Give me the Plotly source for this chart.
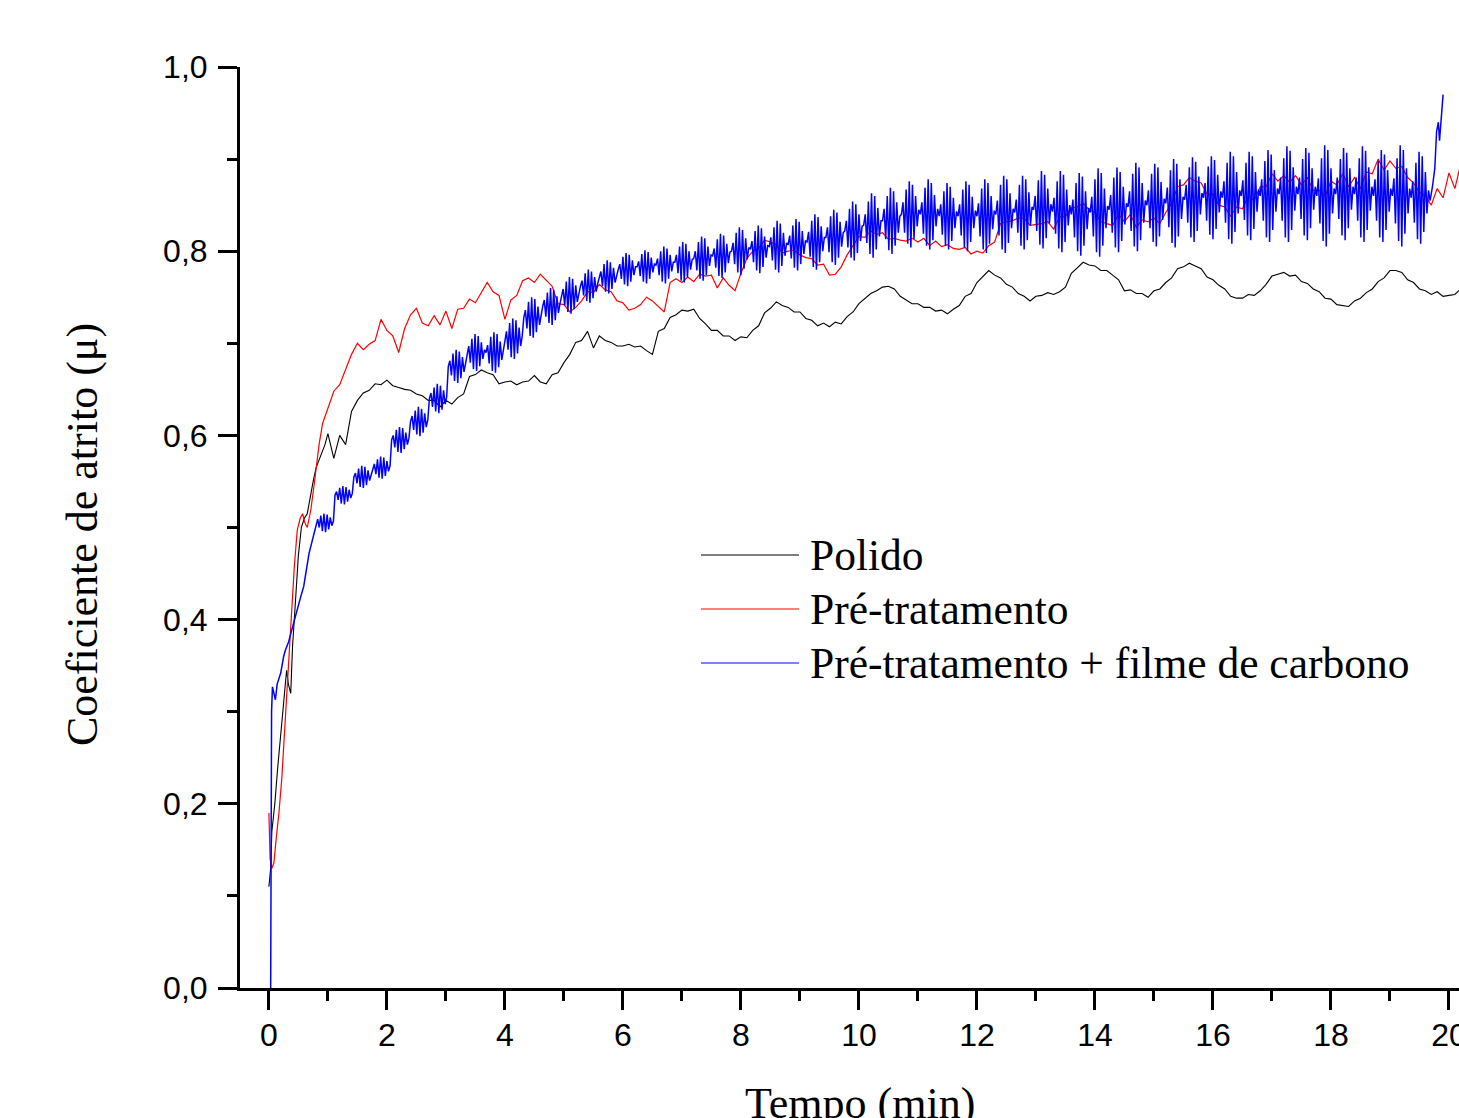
import plotly.graph_objects as go

# ---------------- data ----------------
series_names = ["Polido", "Pré-tratamento", "Pré-tratamento + filme de carbono"]
series_colors = ["#000000", "#ff0000", "#0000ff"]

x_ticks = [0, 2, 4, 6, 8, 10, 12, 14, 16, 18, 20]
y_ticks = [0.0, 0.2, 0.4, 0.6, 0.8, 1.0]

# Polido (black)
black_t_start = [0.0, 0.03, 0.05, 0.1, 0.15, 0.2, 0.25, 0.3, 0.33, 0.37, 0.4, 0.45,
                 0.5, 0.55, 0.6, 0.65, 0.7, 0.75, 0.8, 0.85, 0.9, 0.95]
black_v_start = [0.11, 0.13, 0.17, 0.20, 0.24, 0.28, 0.31, 0.345, 0.33, 0.32, 0.37, 0.42,
                 0.47, 0.50, 0.51, 0.515, 0.535, 0.55, 0.565, 0.573, 0.58, 0.59]
black_step = 0.1
black_v = [
    .602, .575, .600, .590, .626, .638, .646, .649, .656, .655,
    .660, .654, .652, .650, .649, .645, .643, .638, .638, .631,
    .638, .634, .641, .645, .664, .666, .671, .668, .666, .656,
    .658, .659, .655, .658, .659, .665, .658, .656, .666, .668,
    .679, .688, .701, .703, .713, .695, .708, .703, .701, .697,
    .697, .699, .696, .697, .692, .688, .713, .716, .728, .731,
    .736, .735, .737, .727, .721, .714, .714, .708, .708, .703,
    .707, .706, .714, .719, .733, .738, .745, .741, .739, .734,
    .734, .727, .725, .719, .722, .718, .723, .721, .729, .734,
    .743, .749, .754, .757, .761, .762, .759, .751, .747, .743,
    .743, .739, .739, .735, .736, .732, .737, .741, .751, .754,
    .766, .773, .779, .774, .771, .764, .761, .754, .751, .746,
    .751, .752, .755, .753, .756, .761, .776, .782, .788, .785,
    .784, .779, .779, .774, .769, .757, .758, .754, .754, .750,
    .757, .759, .766, .771, .781, .783, .787, .784, .781, .772,
    .769, .763, .759, .751, .749, .749, .753, .752, .757, .764,
    .773, .775, .777, .773, .774, .767, .765, .759, .756, .749,
    .748, .742, .741, .740, .746, .749, .755, .759, .767, .771,
    .779, .779, .777, .769, .766, .759, .757, .753, .756, .751,
    .752, .753, .759,
]

# Pré-tratamento (red)
red_t_start = [0.0, 0.02, 0.05, 0.085, 0.12, 0.17, 0.22, 0.28, 0.33, 0.37, 0.43, 0.48,
               0.53, 0.57, 0.61, 0.65, 0.71, 0.77, 0.85, 0.91, 0.95]
red_v_start = [0.19, 0.14, 0.13, 0.136, 0.16, 0.19, 0.229, 0.295, 0.34, 0.385, 0.457, 0.497,
               0.51, 0.515, 0.505, 0.50, 0.519, 0.548, 0.59, 0.613, 0.62]
red_step = 0.1
red_v = [
    .631, .648, .655, .672, .688, .700, .693, .699, .703, .726,
    .714, .708, .690, .716, .731, .738, .722, .719, .730, .720,
    .735, .716, .737, .738, .748, .744, .755, .766, .756, .752,
    .726, .747, .752, .768, .771, .766, .775, .769, .762, .743,
    .742, .734, .739, .746, .756, .755, .764, .758, .756, .746,
    .744, .736, .738, .742, .750, .746, .740, .734, .766, .770,
    .766, .772, .767, .775, .773, .774, .760, .771, .763, .757,
    .776, .792, .800, .803, .812, .810, .807, .798, .800, .801,
    .796, .793, .792, .785, .786, .774, .775, .783, .796, .806,
    .816, .815, .822, .818, .820, .813, .814, .812, .811, .814,
    .810, .814, .806, .811, .805, .807, .803, .802, .804, .797,
    .800, .798, .806, .810, .830, .832, .833, .836, .836, .828,
    .829, .830, .832, .824, .837, .838, .847, .848, .852, .845,
    .842, .832, .830, .828, .840, .832, .840, .826, .834, .832,
    .836, .830, .842, .852, .870, .872, .880, .876, .874, .862,
    .862, .850, .848, .838, .848, .846, .860, .855, .870, .870,
    .884, .876, .882, .875, .882, .872, .880, .866, .866, .860,
    .876, .872, .884, .870, .880, .868, .886, .884, .900, .888,
    .898, .890, .892, .880, .874, .864, .860, .850, .868, .858,
    .885, .868, .895,
]

# Pré-tratamento + filme de carbono (blue)
blue_t_start = [0.03, 0.035, 0.045, 0.06, 0.08, 0.11, 0.14, 0.2, 0.25, 0.28, 0.33, 0.37,
                0.43, 0.48, 0.54, 0.59, 0.64, 0.68, 0.72, 0.76]
blue_v_start = [0.0, 0.12, 0.30, 0.327, 0.32, 0.313, 0.33, 0.342, 0.36, 0.367, 0.375, 0.385,
                0.40, 0.41, 0.425, 0.436, 0.455, 0.472, 0.482, 0.492]
blue_step = 0.32 / 12
blue_v = [
    .505, .509, .500, .513, .496, .515, .495, .514, .498, .511, .502, .507,
    .535, .539, .530, .543, .526, .545, .525, .544, .528, .541, .532, .537,
    .555, .559, .548, .564, .544, .567, .543, .566, .546, .562, .551, .557,
    .565, .569, .558, .574, .554, .577, .553, .576, .556, .572, .561, .567,
    .595, .600, .587, .606, .582, .609, .581, .608, .585, .603, .590, .597,
    .615, .621, .606, .627, .601, .631, .599, .629, .603, .624, .609, .617,
    .640, .646, .631, .652, .626, .656, .624, .654, .628, .649, .634, .642,
    .675, .681, .665, .689, .659, .693, .657, .691, .662, .685, .669, .678,
    .690, .697, .679, .705, .672, .710, .670, .708, .675, .701, .683, .693,
    .690, .698, .678, .707, .670, .712, .668, .710, .674, .702, .682, .693,
    .705, .713, .693, .722, .685, .727, .683, .725, .689, .717, .697, .708,
    .728, .736, .716, .745, .708, .750, .706, .748, .712, .740, .720, .731,
    .740, .747, .729, .755, .722, .760, .720, .758, .725, .751, .733, .743,
    .752, .759, .741, .767, .734, .772, .732, .770, .737, .763, .745, .755,
    .762, .768, .752, .776, .746, .780, .744, .778, .749, .772, .756, .765,
    .772, .778, .762, .786, .756, .790, .754, .788, .759, .782, .766, .775,
    .780, .786, .770, .794, .764, .798, .762, .796, .767, .790, .774, .783,
    .783, .789, .773, .797, .767, .801, .765, .799, .770, .793, .777, .786,
    .785, .792, .774, .800, .767, .805, .765, .803, .770, .796, .778, .788,
    .788, .796, .776, .805, .768, .810, .766, .808, .772, .800, .780, .791,
    .792, .800, .779, .810, .770, .816, .768, .814, .774, .805, .784, .796,
    .795, .803, .782, .813, .773, .819, .771, .817, .777, .808, .787, .799,
    .800, .809, .786, .820, .777, .826, .774, .823, .781, .814, .791, .804,
    .802, .811, .788, .822, .779, .828, .776, .825, .783, .816, .793, .806,
    .805, .815, .790, .826, .780, .833, .777, .830, .784, .820, .795, .809,
    .807, .817, .792, .828, .782, .835, .779, .832, .786, .822, .797, .811,
    .810, .821, .794, .833, .783, .840, .780, .837, .788, .827, .800, .815,
    .815, .826, .799, .838, .788, .845, .785, .842, .793, .832, .805, .820,
    .822, .833, .804, .846, .793, .854, .790, .851, .798, .840, .811, .827,
    .828, .840, .809, .854, .797, .863, .793, .860, .802, .847, .816, .833,
    .833, .846, .813, .860, .801, .869, .797, .865, .806, .853, .820, .838,
    .840, .853, .820, .867, .808, .876, .804, .872, .813, .860, .827, .845,
    .840, .853, .819, .869, .806, .878, .802, .874, .812, .861, .827, .846,
    .838, .851, .818, .865, .806, .874, .802, .870, .811, .858, .825, .843,
    .838, .851, .817, .867, .804, .876, .800, .872, .810, .859, .825, .844,
    .838, .852, .816, .868, .802, .878, .798, .874, .808, .860, .824, .844,
    .840, .855, .817, .872, .802, .882, .798, .878, .809, .863, .825, .846,
    .842, .856, .820, .872, .806, .882, .802, .878, .812, .864, .828, .848,
    .845, .860, .822, .877, .807, .887, .803, .883, .814, .868, .830, .851,
    .843, .858, .819, .876, .803, .887, .799, .883, .810, .867, .828, .850,
    .840, .856, .815, .874, .800, .885, .795, .881, .806, .865, .824, .847,
    .842, .859, .816, .878, .799, .890, .794, .885, .806, .868, .825, .849,
    .845, .861, .820, .880, .804, .891, .799, .886, .811, .870, .829, .852,
    .848, .865, .822, .884, .805, .896, .800, .891, .812, .874, .831, .855,
    .850, .866, .825, .884, .810, .895, .805, .891, .816, .875, .834, .857,
    .852, .869, .826, .888, .809, .900, .804, .895, .816, .878, .835, .859,
    .856, .872, .831, .891, .815, .902, .810, .897, .822, .881, .840, .863,
    .858, .874, .833, .892, .818, .903, .813, .899, .824, .883, .842, .865,
    .858, .876, .831, .896, .813, .908, .808, .903, .821, .886, .841, .866,
    .860, .877, .834, .896, .817, .908, .812, .903, .824, .886, .843, .867,
    .860, .878, .833, .898, .815, .910, .810, .905, .823, .888, .843, .868,
    .862, .880, .833, .901, .815, .914, .810, .909, .823, .891, .844, .870,
    .862, .880, .835, .900, .817, .912, .812, .907, .825, .890, .845, .870,
    .860, .879, .830, .901, .811, .915, .805, .910, .819, .890, .841, .868,
    .862, .880, .835, .900, .817, .912, .812, .907, .825, .890, .845, .870,
    .862, .880, .833, .901, .815, .914, .810, .909, .823, .891, .844, .870,
    .860, .878, .833, .898, .815, .910, .810, .905, .823, .888, .843, .868,
    .860, .879, .830, .901, .811, .915, .805, .910, .819, .890, .841, .868,
    .858, .876, .831, .896, .813, .908, .808, .903, .821, .886, .841, .866,
]
blue_t_end = [19.68, 19.72, 19.76, 19.79, 19.82, 19.84, 19.87, 19.9]
blue_v_end = [0.855, 0.87, 0.89, 0.93, 0.94, 0.92, 0.95, 0.97]


def uniform_times(start, step, n):
    return [round(start + step * i, 4) for i in range(n)]


black_t = black_t_start + uniform_times(1.0, black_step, len(black_v))
black_y = black_v_start + black_v
red_t = red_t_start + uniform_times(1.0, red_step, len(red_v))
red_y = red_v_start + red_v
blue_t = blue_t_start + uniform_times(0.8, blue_step, len(blue_v)) + blue_t_end
blue_y = blue_v_start + blue_v + blue_v_end

all_t = [black_t, red_t, blue_t]
all_y = [black_y, red_y, blue_y]
line_widths = [1.1, 1.2, 1.5]

# ---------------- figure ----------------
W, H = 1459, 1118
L, R, T, B = 240, 0, 67, 130
PW, PH = W - L - R, H - T - B

fig = go.Figure()
for name, color, lw, tt, yy in zip(series_names, series_colors, line_widths, all_t, all_y):
    fig.add_trace(go.Scatter(x=tt, y=yy, mode="lines", name=name,
                             line=dict(color=color, width=lw),
                             showlegend=False, hoverinfo="skip"))

tick_font = dict(family="Liberation Sans, Arial, sans-serif", size=32, color="#000")
serif = "Liberation Serif, Times New Roman, serif"

fig.update_layout(
    width=W, height=H,
    margin=dict(l=L, r=R, t=T, b=B, autoexpand=False),
    paper_bgcolor="white", plot_bgcolor="white",
    separators=",.",
    showlegend=False,
    xaxis=dict(range=[-0.49, 20.17], tickvals=x_ticks, ticks="outside", ticklen=19,
               tickwidth=2.5, tickcolor="#000", showline=True, linewidth=3,
               linecolor="#000", showgrid=False, zeroline=False,
               tickfont=tick_font, ticklabelstandoff=-2, automargin=False,
               ticklabeloverflow="allow",
               minor=dict(dtick=1, tick0=1, ticks="outside", ticklen=10,
                          tickwidth=2.5, tickcolor="#000", showgrid=False)),
    yaxis=dict(range=[0, 1.0], tickvals=y_ticks, tickformat=".1f", ticks="outside",
               ticklen=19, tickwidth=2.5, tickcolor="#000", showline=True,
               linewidth=3, linecolor="#000", showgrid=False, zeroline=False,
               tickfont=tick_font, ticklabelstandoff=4, automargin=False,
               minor=dict(dtick=0.1, tick0=0.1, ticks="outside", ticklen=10,
                          tickwidth=2.5, tickcolor="#000", showgrid=False)),
)


def px_to_paper(px, py):
    return (px - L) / PW, (H - B - py) / PH


annotations = []
ax, ay = px_to_paper(860, 1103)
annotations.append(dict(text="Tempo (min)", x=ax, y=ay, xref="paper", yref="paper",
                        xanchor="center", yanchor="middle", showarrow=False,
                        font=dict(family=serif, size=44, color="#000")))
ax, ay = px_to_paper(82, 535)
annotations.append(dict(text="Coeficiente de atrito (μ)", x=ax, y=ay, xref="paper",
                        yref="paper", xanchor="center", yanchor="middle",
                        textangle=-90, showarrow=False,
                        font=dict(family=serif, size=44, color="#000")))

# manual legend with long line samples, as in the reference
shapes = []
legend_rows_px = [555, 609, 663]
for name, color, ry in zip(series_names, series_colors, legend_rows_px):
    x0, y0 = px_to_paper(701, ry)
    x1, _ = px_to_paper(799, ry)
    shapes.append(dict(type="line", xref="paper", yref="paper", x0=x0, x1=x1,
                       y0=y0, y1=y0, line=dict(color=color, width=1.2)))
    tx, ty = px_to_paper(808, ry)
    annotations.append(dict(text=name, x=tx, y=ty, xref="paper", yref="paper",
                            xanchor="left", yanchor="middle", showarrow=False,
                            font=dict(family=serif, size=43.5, color="#000")))

fig.update_layout(annotations=annotations, shapes=shapes)
fig.write_html("out.html",
               config={"displayModeBar": False},
               post_script="document.body.style.margin='0';"
                           "document.body.style.overflow='hidden';")
